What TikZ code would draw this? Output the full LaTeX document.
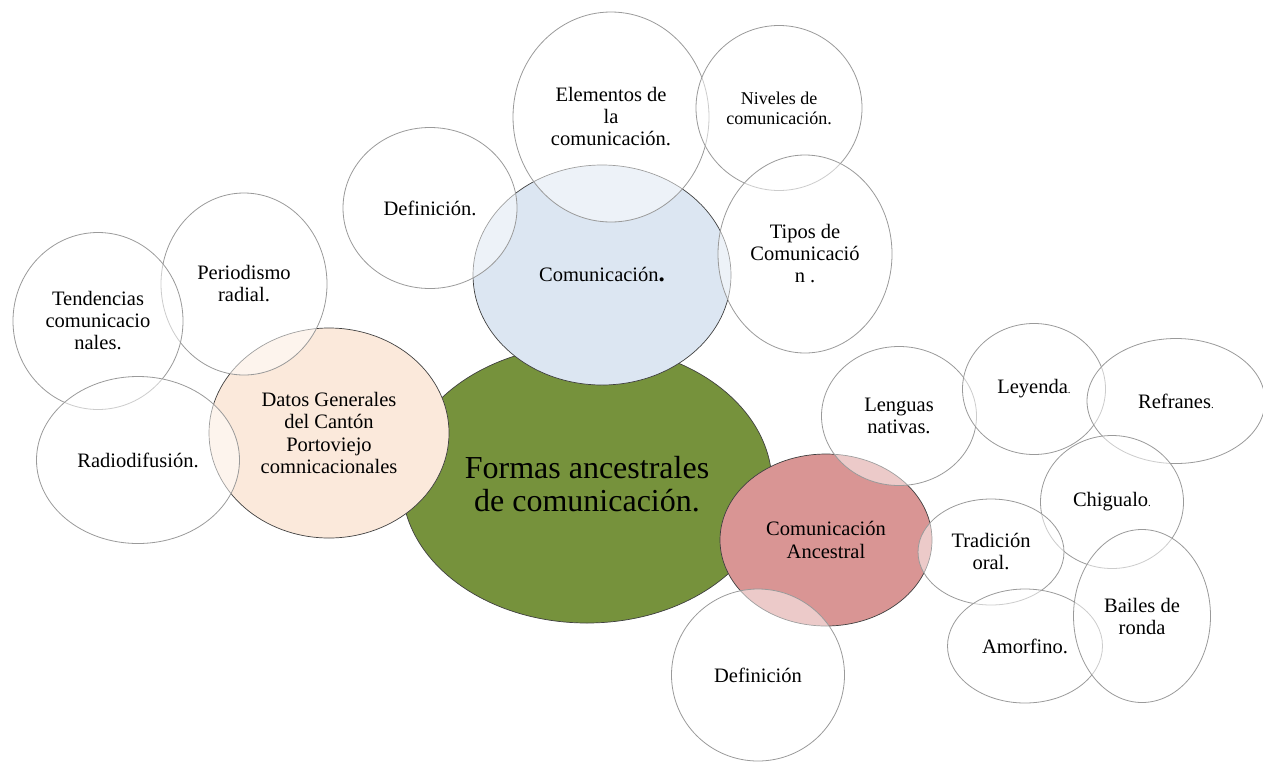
\documentclass[tikz,border=0pt]{standalone}
\usepackage{fontspec}
\setmainfont{Liberation Serif}
\usetikzlibrary{shapes.geometric}
\definecolor{verde}{HTML}{76923C}
\definecolor{azul}{HTML}{DCE6F2}
\definecolor{durazno}{HTML}{FBE9DB}
\definecolor{rojo}{HTML}{D99594}
\definecolor{borde}{HTML}{404040}
\definecolor{gris}{HTML}{9A9A9A}
\newcommand\sdot{{\fontsize{11}{11}\selectfont.}}
\begin{document}
\begin{tikzpicture}[x=1pt,y=-1pt,
  main/.style={ellipse, draw=borde, line width=0.7pt, inner sep=0pt, align=center,
    font=\fontsize{20.5}{22.5}\selectfont},
  sat/.style={ellipse, draw=gris, line width=0.8pt, fill=white, fill opacity=0.5,
    text opacity=1, inner sep=0pt, align=center, font=\fontsize{20.5}{22}\selectfont}]
\useasboundingbox (0,0) rectangle (1263,761);
% main shapes
\node[main, fill=verde, minimum width=370pt, minimum height=278pt,
  font=\fontsize{32}{33}\selectfont] (formas) at (587,484) {Formas ancestrales\\de comunicación.};
\node[main, fill=azul, minimum width=258pt, minimum height=220pt] (comu) at (602,275)
  {Comunicación{\fontsize{25}{22}\selectfont\bfseries .}};
\node[main, fill=durazno, minimum width=240pt, minimum height=210pt] (datos) at (329,433)
  {Datos Generales\\del Cantón\\Portoviejo\\comnicacionales};
\node[main, fill=rojo, minimum width=212pt, minimum height=172pt] (ances) at (826,540)
  {Comunicación\\Ancestral};
% satellites
\node[sat, minimum width=174pt, minimum height=161pt] (def1) at (430,208) {Definición.};
\node[sat, minimum width=196pt, minimum height=210pt] (elem) at (611,117) {Elementos de\\la\\comunicación.};
\node[sat, minimum width=166pt, minimum height=165pt, font=\fontsize{18}{20}\selectfont] (nive) at (779,108) {Niveles de\\comunicación.};
\node[sat, minimum width=174pt, minimum height=198pt] (tipo) at (805,254) {Tipos de\\Comunicació\\n .};
\node[sat, minimum width=166pt, minimum height=182pt] (peri) at (244,284) {Periodismo\\radial.};
\node[sat, minimum width=170pt, minimum height=177pt] (tend) at (98,321) {Tendencias\\comunicacio\\nales.};
\node[sat, minimum width=203pt, minimum height=167pt] (radi) at (138,460) {Radiodifusión.};
\node[sat, minimum width=155pt, minimum height=139pt] (leng) at (899,416) {Lenguas\\nativas.};
\node[sat, minimum width=143pt, minimum height=131pt] (leye) at (1034,389) {Leyenda\sdot};
\node[sat, minimum width=178pt, minimum height=125pt] (refr) at (1176,401) {Refranes\sdot};
\node[sat, minimum width=143pt, minimum height=133pt] (chig) at (1112,502) {Chigualo\sdot};
\node[sat, minimum width=146pt, minimum height=106pt] (trad) at (991,552) {Tradición\\oral.};
\node[sat, minimum width=155pt, minimum height=114pt] (amor) at (1025,646) {Amorfino.};
\node[sat, minimum width=137pt, minimum height=173pt] (bail) at (1142,616) {Bailes de\\ronda};
\node[sat, minimum width=173pt, minimum height=172pt] (def2) at (758,675) {Definición};
\end{tikzpicture}
\end{document}
